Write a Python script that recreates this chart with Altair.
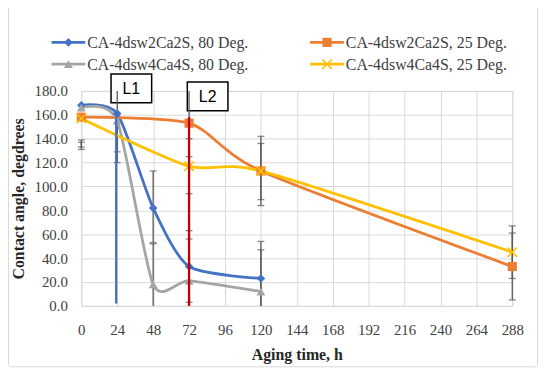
import altair as alt
import pandas as pd

# ---------------- data ----------------
series_names = ["CA-4dsw2Ca2S, 80 Deg.", "CA-4dsw2Ca2S, 25 Deg.",
                "CA-4dsw4Ca4S, 80 Deg.", "CA-4dsw4Ca4S, 25 Deg."]
series_colors = ["#4472C4", "#ED7D31", "#A5A5A5", "#FFC000"]

blue_x = [0, 24, 48, 72, 120]
blue_y = [168, 161, 82, 33, 23]
orange_x = [0, 72, 120, 288]
orange_y = [158, 153, 113, 33]
gray_x = [0, 24, 48, 72, 120]
gray_y = [166, 155, 18, 21, 12]
yellow_x = [0, 72, 120, 288]
yellow_y = [157, 117, 113, 45]

# error bars (x, low, high)
err_x = [0, 0, 24, 24, 48, 48, 72, 72, 72, 72, 120, 120, 120, 120, 288, 288]
err_lo = [131, 133, 120, 129, 53, 0, 3, 0, 94, 125, 84, 89, 0, 0, 23, 5]
err_hi = [139, 137, 180, 153, 113, 52, 63, 56, 140, 180, 142, 136, 54, 47, 67, 61]

# vertical marker lines L1 / L2
vline_x = [23.3, 72]
vline_lo = [2, 0]
vline_hi = [161, 158]
vline_colors = ["#4472C4", "#C00000"]
box_labels = ["L1", "L2"]

x_ticks = list(range(0, 289, 24))
y_ticks = list(range(0, 181, 20))

W, H = 435, 217
FONT = "Liberation Serif"
TXT = "#404040"

xs = alt.Scale(domain=[0, 288], nice=False, zero=False)
ys = alt.Scale(domain=[0, 180], nice=False)

xax = alt.Axis(values=x_ticks, title="Aging time, h", labelFont=FONT, labelFontSize=15,
               labelColor=TXT, titleFont=FONT, titleFontSize=16, titleColor="#262626",
               titleFontWeight="bold", ticks=False, labelPadding=17, titlePadding=9,
               grid=True, gridColor="#D9D9D9", domainColor="#D9D9D9", labelFlush=False,
               labelOverlap=False)
yax = alt.Axis(values=y_ticks, format=".1f", title="Contact angle, degdrees", labelFont=FONT,
               labelFontSize=15, labelColor=TXT, titleFont=FONT, titleFontSize=16,
               titleColor="#262626", titleFontWeight="bold", ticks=False, labelPadding=14,
               titlePadding=8, grid=True, gridColor="#D9D9D9", domain=False,
               labelOverlap=False)


def X(field):
    return alt.X(field, scale=xs, axis=xax)


def Y(field):
    return alt.Y(field, scale=ys, axis=yax)


axis_df = pd.DataFrame({"x": [0, 288], "y": [0, 180]})
base = alt.Chart(axis_df).mark_point(opacity=0).encode(x=X("x:Q"), y=Y("y:Q"))

layers = [base]

# chart-area border
layers.append(alt.Chart(axis_df.head(1)).mark_rect(fill=None, stroke="#D9D9D9", strokeWidth=1,
                                                   cornerRadius=2).encode(
    x=alt.value(-73.5), x2=alt.value(460.5), y=alt.value(-90), y2=alt.value(278.5)))

# L1 / L2 boxes
box_df = pd.DataFrame({"label": box_labels, "x0": [30, 107], "x1": [71, 148],
                       "y0": [-17, -9], "y1": [12, 20]})
for i in range(2):
    d = box_df.iloc[[i]]
    layers.append(alt.Chart(d).mark_rect(fill="white", stroke="black", strokeWidth=1.5).encode(
        x=alt.value(float(d.x0.iloc[0])), x2=alt.value(float(d.x1.iloc[0])),
        y=alt.value(float(d.y0.iloc[0])), y2=alt.value(float(d.y1.iloc[0]))))
    layers.append(alt.Chart(d).mark_text(font="Liberation Sans", fontSize=16, color="black",
                                         baseline="middle", align="center").encode(
        x=alt.value(float(d.x0.iloc[0] + d.x1.iloc[0]) / 2),
        y=alt.value(float(d.y0.iloc[0] + d.y1.iloc[0]) / 2 + 1),
        text="label:N"))

# error bars
err_df = pd.DataFrame({"x": err_x, "lo": err_lo, "hi": err_hi})
layers.append(alt.Chart(err_df).mark_rule(color="#595959", strokeWidth=1.3).encode(
    x=X("x:Q"), y=Y("lo:Q"), y2="hi:Q"))
caps = pd.DataFrame({"x": err_x + err_x, "v": err_lo + err_hi})
caps = caps[(caps.v > 0) & (caps.v < 180)]
layers.append(alt.Chart(caps).mark_tick(color="#595959", orient="horizontal", size=7,
                                        thickness=1.3).encode(
    x=X("x:Q"), y=Y("v:Q")))

# series
sx = [blue_x, orange_x, gray_x, yellow_x]
sy = [blue_y, orange_y, gray_y, yellow_y]
shapes = ["diamond", "square", "triangle-up", "M-1,-1L1,1M-1,1L1,-1"]
sizes = [75, 85, 80, 90]
for i in range(4):
    d = pd.DataFrame({"x": sx[i], "y": sy[i]})
    layers.append(alt.Chart(d).mark_line(color=series_colors[i], strokeWidth=2.8,
                                         interpolate="cardinal", tension=0.3).encode(
        x=X("x:Q"), y=Y("y:Q")))
for i in range(4):
    d = pd.DataFrame({"x": sx[i], "y": sy[i]})
    if i == 3:
        m = alt.Chart(d).mark_point(shape=shapes[i], size=sizes[i], filled=False,
                                    color=series_colors[i], strokeWidth=1.6, opacity=1)
    else:
        m = alt.Chart(d).mark_point(shape=shapes[i], size=sizes[i], filled=True,
                                    color=series_colors[i], opacity=1)
    layers.append(m.encode(x=X("x:Q"), y=Y("y:Q")))

# vertical L lines
for i in range(2):
    d = pd.DataFrame({"x": [vline_x[i]], "lo": [vline_lo[i]], "hi": [vline_hi[i]]})
    layers.append(alt.Chart(d).mark_rule(color=vline_colors[i], strokeWidth=2.3).encode(
        x=X("x:Q"), y=Y("lo:Q"), y2="hi:Q"))

# legend
leg_cols = [-30, 231]
leg_rows = [-49, -27]
for i in range(4):
    cx = leg_cols[i % 2]
    cy = leg_rows[i // 2]
    d = pd.DataFrame({"name": [series_names[i]]})
    layers.append(alt.Chart(d).mark_rule(color=series_colors[i], strokeWidth=2.8).encode(
        x=alt.value(cx), x2=alt.value(cx + 34), y=alt.value(cy)))
    if i == 3:
        pm = alt.Chart(d).mark_point(shape=shapes[i], size=sizes[i], filled=False,
                                     color=series_colors[i], strokeWidth=1.6, opacity=1)
    else:
        pm = alt.Chart(d).mark_point(shape=shapes[i], size=sizes[i], filled=True,
                                     color=series_colors[i], opacity=1)
    layers.append(pm.encode(x=alt.value(cx + 17), y=alt.value(cy)))
    layers.append(alt.Chart(d).mark_text(font=FONT, fontSize=16, color=TXT, align="left",
                                         baseline="middle").encode(
        x=alt.value(cx + 36), y=alt.value(cy + 1), text="name:N"))

chart = alt.layer(*layers).properties(
    width=W, height=H,
    autosize=alt.AutoSizeParams(type="none"),
    padding={"left": 74, "top": 82, "right": 30, "bottom": 64},
).configure_view(stroke=None).configure(background="white")

chart.save("out.html", embed_options={"renderer": "svg", "actions": False})
